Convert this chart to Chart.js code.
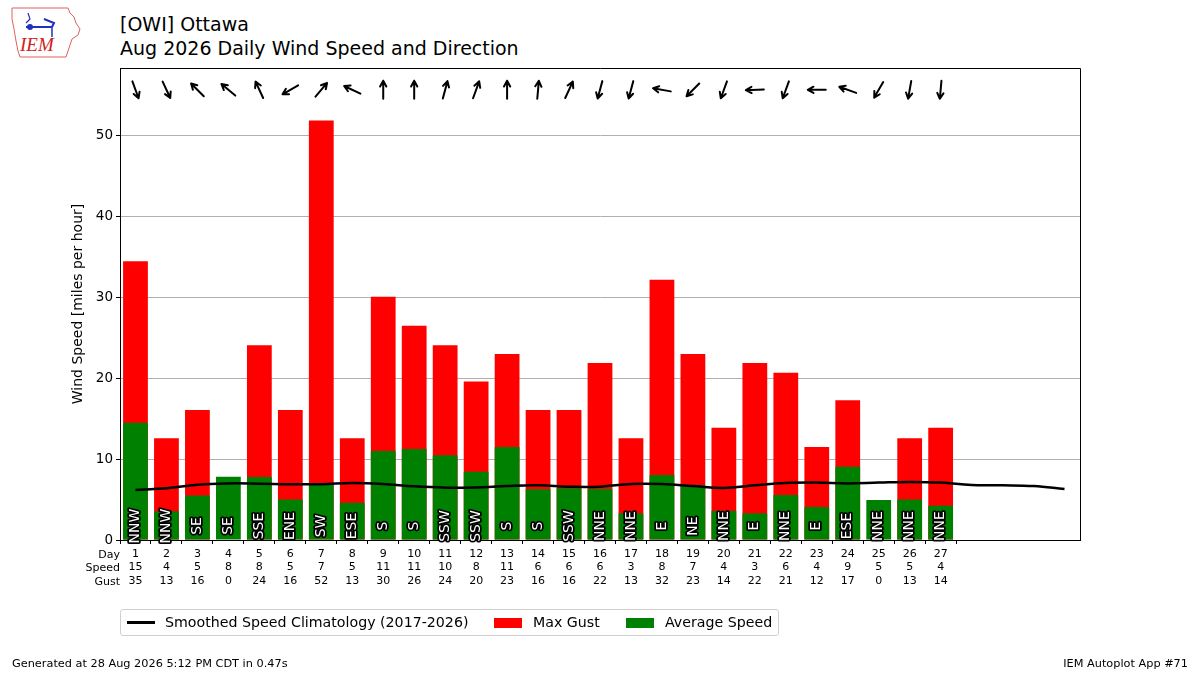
<!DOCTYPE html>
<html>
<head>
<meta charset="utf-8">
<script src="https://cdn.jsdelivr.net/npm/chart.js@4"></script>
<style>
  html, body { margin:0; padding:0; background:#fff; }
  body { width:1200px; height:675px; position:relative; overflow:hidden; font-family:"DejaVu Sans", sans-serif; color:#000; }
  #wrap { position:absolute; left:0; top:0; width:1200px; height:675px; }
  .t { position:absolute; white-space:nowrap; }
  #legend { position:absolute; left:120px; top:609px; width:657px; height:25px; border:1px solid #d0d0d0; border-radius:3px; background:#fff; }
  #legend .it { position:absolute; top:0; height:25px; line-height:25px; font-size:14.2px; }
  #legend .sw { position:absolute; }
</style>
</head>
<body>
<svg class="t" style="left:8px;top:5px" width="74" height="56" viewBox="0 0 74 56">
  <path d="M4,3 L60,3 L62,8 L66,12 L68,18 L72,24 L70,30 L64,34 L62,40 L60,46 L58,52 L12,52 L10,46 L8,36 L6,24 L4,14 Z" fill="none" stroke="#e06060" stroke-width="1"/>
  <line x1="18" y1="22" x2="44" y2="22" stroke="#2030c0" stroke-width="2"/>
  <circle cx="22" cy="22" r="3" fill="#2030c0"/>
  <path d="M36,14 L46,18 L44,22" fill="none" stroke="#2030c0" stroke-width="2"/>
  <line x1="44" y1="22" x2="44" y2="32" stroke="#2030c0" stroke-width="1.5"/>
  <path d="M20,8 L22,14 L18,18" fill="none" stroke="#2030c0" stroke-width="1.2"/>
  <text x="12" y="46" font-family="Liberation Serif" font-style="italic" font-size="19" fill="#d02020">IEM</text>
</svg>
<div class="t" style="left:120px;top:12px;font-size:19px;line-height:24px;">[OWI] Ottawa<br>Aug 2026 Daily Wind Speed and Direction</div>
<div id="wrap"><canvas id="c" width="1200" height="675"></canvas></div>
<div id="legend">
  <div class="sw" style="left:6px;top:11px;width:28px;height:3px;background:#000;"></div>
  <div class="it" style="left:44px;">Smoothed Speed Climatology (2017-2026)</div>
  <div class="sw" style="left:373px;top:8px;width:28px;height:10px;background:#ff0000;"></div>
  <div class="it" style="left:412px;">Max Gust</div>
  <div class="sw" style="left:505px;top:8px;width:28px;height:10px;background:#008000;"></div>
  <div class="it" style="left:544px;">Average Speed</div>
</div>
<div class="t" style="left:12px;top:657px;font-size:11.3px;">Generated at 28 Aug 2026 5:12 PM CDT in 0.47s</div>
<div class="t" style="right:12px;top:657px;font-size:11.3px;">IEM Autoplot App #71</div>
<script>
// ---- data ----
const days = [1,2,3,4,5,6,7,8,9,10,11,12,13,14,15,16,17,18,19,20,21,22,23,24,25,26,27];
const avgSpeed = [14.5,3.55,5.5,7.84,7.8,5.0,6.8,4.6,11.0,11.26,10.5,8.45,11.5,6.27,6.4,6.3,3.3,8.04,6.8,3.6,3.3,5.57,4.08,9.07,4.95,5.0,4.25];
const maxGust = [34.5,12.6,16.1,0,24.1,16.1,51.9,12.6,30.1,26.5,24.1,19.6,23.0,16.1,16.1,21.9,12.6,32.2,23.0,13.9,21.9,20.7,11.5,17.3,0,12.6,13.9];
const speedLabels = [15,4,5,8,8,5,7,5,11,11,10,8,11,6,6,6,3,8,7,4,3,6,4,9,5,5,4];
const gustLabels = [35,13,16,0,24,16,52,13,30,26,24,20,23,16,16,22,13,32,23,14,22,21,12,17,0,13,14];
const dirLabels = ["NNW","NNW","SE","SE","SSE","ENE","SW","ESE","S","S","SSW","SSW","S","S","SSW","NNE","NNE","E","NE","NNE","E","NNE","E","ESE","NNE","NNE","NNE"];
const dirDegrees = [340,335,135,130,155,60,220,115,180,180,195,200,180,185,205,15,15,100,45,20,88,20,90,110,30,10,5];
const climDays = [1,2,3,4,5,6,7,8,9,10,11,12,13,14,15,16,17,18,19,20,21,22,23,24,25,26,27,28,29,30,31];
const climSpeed = [6.2,6.4,6.85,7.0,6.97,6.9,6.9,7.05,6.93,6.64,6.48,6.5,6.68,6.77,6.6,6.6,6.93,6.93,6.68,6.44,6.77,7.05,7.1,7.0,7.1,7.18,7.1,6.8,6.77,6.68,6.3];
const yTicks = [0,10,20,30,40,50];
const rowLabels = ["Day","Speed","Gust"];
const arrowLevel = 55.7;
const FONT = "DejaVu Sans";

const extras = {
  id: 'extras',
  afterDatasetsDraw(chart) {
    const ctx = chart.ctx, x = chart.scales.x, y = chart.scales.y, a = chart.chartArea;
    // direction text labels
    ctx.save();
    ctx.font = "14px '" + FONT + "'";
    ctx.textAlign = 'center';
    ctx.textBaseline = 'middle';
    ctx.lineJoin = 'round';
    days.forEach((d, i) => {
      ctx.save();
      ctx.translate(x.getPixelForValue(d), a.bottom - 14);
      ctx.rotate(-Math.PI / 2);
      ctx.lineWidth = 3.5;
      ctx.strokeStyle = '#000';
      ctx.strokeText(dirLabels[i], 0, 0);
      ctx.fillStyle = '#fff';
      ctx.fillText(dirLabels[i], 0, 0);
      ctx.restore();
    });
    // arrows
    ctx.strokeStyle = '#000';
    ctx.lineWidth = 2;
    ctx.lineCap = 'round';
    days.forEach((d, i) => {
      const cx = x.getPixelForValue(d), cy = y.getPixelForValue(arrowLevel);
      const b = (dirDegrees[i] + 180) * Math.PI / 180;
      const dx = Math.sin(b), dy = -Math.cos(b);
      const L = 9;
      const tx = cx + dx * L, ty = cy + dy * L;
      ctx.beginPath();
      ctx.moveTo(cx - dx * L, cy - dy * L);
      ctx.lineTo(tx, ty);
      const h = 6.5, ang = 0.5;
      const back = Math.atan2(-dy, -dx);
      ctx.moveTo(tx + h * Math.cos(back + ang), ty + h * Math.sin(back + ang));
      ctx.lineTo(tx, ty);
      ctx.lineTo(tx + h * Math.cos(back - ang), ty + h * Math.sin(back - ang));
      ctx.stroke();
    });
    ctx.restore();
  },
  afterDraw(chart) {
    const ctx = chart.ctx, a = chart.chartArea;
    ctx.save();
    ctx.strokeStyle = '#000';
    ctx.lineWidth = 1;
    ctx.beginPath();
    ctx.moveTo(a.left, a.top + 0.5);
    ctx.lineTo(a.right + 0.5, a.top + 0.5);
    ctx.lineTo(a.right + 0.5, a.bottom);
    ctx.stroke();
    ctx.fillStyle = '#000';
    ctx.font = "11px '" + FONT + "'";
    ctx.textAlign = 'right';
    ctx.textBaseline = 'middle';
    rowLabels.forEach((t, i) => ctx.fillText(t, a.left, a.bottom + 15 + i * 13.5));
    ctx.restore();
  }
};

Chart.defaults.font.family = FONT;
Chart.defaults.color = '#000';

new Chart(document.getElementById('c'), {
  data: {
    datasets: [
      { type: 'line', label: 'Smoothed Speed Climatology (2017-2026)', data: climDays.map((d, i) => ({x: d, y: climSpeed[i]})),
        borderColor: '#000', borderWidth: 2.5, pointRadius: 0, tension: 0.4, order: 0 },
      { type: 'bar', label: 'Average Speed', data: days.map((d, i) => ({x: d, y: avgSpeed[i]})),
        backgroundColor: '#008000', grouped: false, barPercentage: 0.8, categoryPercentage: 1.0, order: 1 },
      { type: 'bar', label: 'Max Gust', data: days.map((d, i) => ({x: d, y: maxGust[i]})),
        backgroundColor: '#ff0000', grouped: false, barPercentage: 0.8, categoryPercentage: 1.0, order: 2 }
    ]
  },
  options: {
    responsive: false,
    animation: false,
    devicePixelRatio: 1,
    layout: { padding: { left: 66, top: 68, right: 120, bottom: 0 } },
    plugins: { legend: { display: false }, tooltip: { enabled: false } },
    scales: {
      x: {
        type: 'linear', min: 0.5, max: 31.5, offset: false,
        afterBuildTicks: s => { s.ticks = days.map(d => ({value: d})); },
        afterFit: s => { s.height = 135; },
        grid: { drawOnChartArea: false, drawTicks: true, tickLength: 4, tickColor: '#000', tickWidth: 1 },
        border: { color: '#000', width: 1 },
        ticks: { autoSkip: false, maxRotation: 0, padding: 3, font: { size: 11, lineHeight: 1.23 },
          callback: (v, i) => [String(days[i]), String(speedLabels[i]), String(gustLabels[i])] }
      },
      y: {
        min: 0, max: 58.4,
        afterBuildTicks: s => { s.ticks = yTicks.map(v => ({value: v})); },
        afterFit: s => { s.width = 54; },
        grid: { color: '#b0b0b0', lineWidth: 1, tickLength: 4, tickColor: '#000' },
        border: { color: '#000', width: 1 },
        ticks: { font: { size: 13.5 }, padding: 3 },
        title: { display: true, text: 'Wind Speed [miles per hour]', font: { size: 14 }, padding: { top: 4, bottom: 4 } }
      }
    }
  },
  plugins: [extras]
});
</script>
</body>
</html>
